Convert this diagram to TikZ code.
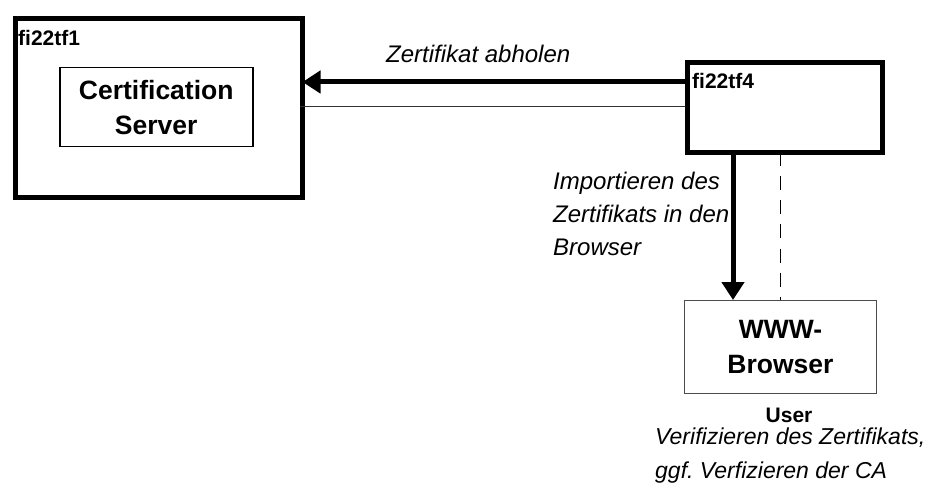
\documentclass[tikz,border=0pt]{standalone}
\usepackage{fontspec}
\setmainfont{Liberation Sans}
\frenchspacing
\usetikzlibrary{arrows.meta}
\begin{document}
\begin{tikzpicture}[x=1pt,y=-1pt,
  heavybox/.style={draw, line width=5pt},
  thinbox/.style={draw, line width=1.5pt},
  greybox/.style={draw=black!70, line width=1pt},
  boldlbl/.style={font=\fontsize{21}{25}\selectfont\bfseries, inner sep=0pt},
  bigbold/.style={font=\fontsize{26.5}{35}\selectfont\bfseries, align=center, inner sep=0pt},
  itlbl/.style={font=\fontsize{24}{33}\selectfont\itshape, inner sep=0pt},
  heavyarrow/.style={line width=5pt, -{Triangle[length=18pt,width=22pt]}},
  thinline/.style={line width=0.8pt, draw=black!80},
  dashline/.style={line width=0.8pt, dash pattern=on 14pt off 10pt}
]
\useasboundingbox (0,0) rectangle (928,486);
% boxes
\node[heavybox, minimum width=287.5pt, minimum height=179pt, anchor=north west] (tf1) at (12.5,16.5) {};
\node[boldlbl, anchor=base west] (tf1l) at (18,46) {fi22tf1};
\node[thinbox, minimum width=193pt, minimum height=79pt, anchor=north west] (cs) at (59,67) {};
\node[bigbold] (cst) at (cs.center) {Certification\\Server};
\node[heavybox, minimum width=195pt, minimum height=90pt, anchor=north west] (tf4) at (685,60) {};
\node[boldlbl, anchor=base west] (tf4l) at (692,89) {fi22tf4};
\node[greybox, minimum width=192pt, minimum height=93pt, anchor=north west] (www) at (684,300) {};
\node[bigbold] (wwwt) at (www.center) {WWW-\\Browser};
\node[boldlbl, anchor=base] (user) at (789,422) {User};
% connectors
\coordinate (a1) at (685,82);
\coordinate (a2) at (302.5,82);
\draw[heavyarrow] (a1) -- (a2);
\coordinate (b1) at (685,106);
\coordinate (b2) at (300,106);
\draw[thinline] (b1) -- (b2);
\coordinate (c1) at (733,150);
\coordinate (c2) at (733,300);
\draw[heavyarrow] (c1) -- (c2);
\coordinate (d1) at (780,152.5);
\coordinate (d2) at (780,300);
\draw[dashline] (d1) -- (d2);
% labels
\node[itlbl, anchor=base west] (l1) at (386,63) {Zertifikat abholen};
\node[itlbl, anchor=north west, align=left] (l2) at (553,172) {Importieren des\\Zertifikats in den\\Browser};
\node[itlbl, anchor=north west, align=left, font=\fontsize{23}{34}\selectfont\itshape] (l3) at (655,428) {Verifizieren des Zertifikats,\\ggf. Verfizieren der CA};
\end{tikzpicture}
\end{document}
